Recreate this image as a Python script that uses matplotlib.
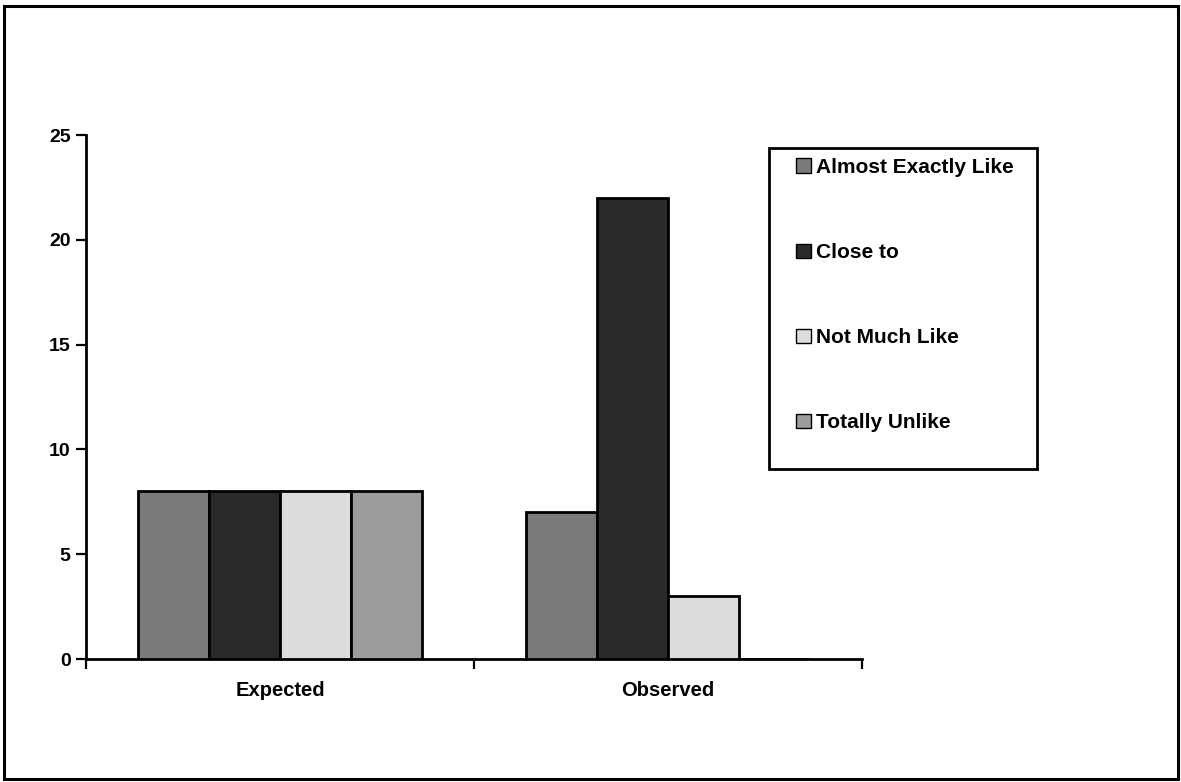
import matplotlib
matplotlib.use("Agg")
import matplotlib.pyplot as plt
from matplotlib.patches import Rectangle
import numpy as np

plt.rcParams['font.family'] = ['Liberation Sans', 'DejaVu Sans']
plt.rcParams['font.weight'] = 'bold'

groups = ["Expected", "Observed"]
series = ["Almost Exactly Like", "Close to", "Not Much Like", "Totally Unlike"]
values = {
    "Almost Exactly Like": [8, 7],
    "Close to": [8, 22],
    "Not Much Like": [8, 3],
    "Totally Unlike": [8, 0],
}
fills = ["#7a7a7a", "#2a2a2a", "#dcdcdc", "#9c9c9c"]
y_ticks = [0, 5, 10, 15, 20, 25]

fig = plt.figure(figsize=(11.81, 7.82), dpi=100)
fig.patch.set_facecolor("white")

# outer frame around the whole chart
fig.patches.append(Rectangle((4 / 1181, 3 / 782), 1174 / 1181, 773 / 782,
                             transform=fig.transFigure, fill=False,
                             edgecolor="black", linewidth=2.2))

ax = fig.add_axes([86 / 1181, 1 - 659 / 782, (862 - 86) / 1181, (659 - 135) / 782])

x = np.arange(len(groups))
width = 0.183
handles = []
for i, (name, col) in enumerate(zip(series, fills)):
    vals = values[name]
    offs = (i - 1.5) * width
    h = ax.bar(x + offs, vals, width, color=col, edgecolor="black",
               linewidth=2, label=name, zorder=3)
    handles.append(h)

ax.set_xlim(-0.5, 1.5)
ax.set_ylim(0, 25)
ax.set_yticks(y_ticks)
ax.set_yticklabels([str(t) for t in y_ticks], fontsize=14, fontweight="bold")
ax.set_xticks([-0.5, 0.5, 1.5], minor=False)
ax.set_xticklabels(["", "", ""])
ax.set_xticks(x, minor=True)
ax.set_xticklabels(groups, minor=True, fontsize=14.5, fontweight="bold")
ax.tick_params(axis="x", which="minor", length=0, pad=16)
ax.tick_params(axis="x", which="major", length=7, width=1.6, direction="out")
ax.tick_params(axis="y", length=7, width=1.6, direction="out", pad=4)

for s in ["top", "right"]:
    ax.spines[s].set_visible(False)
for s in ["left", "bottom"]:
    ax.spines[s].set_linewidth(2)

# legend box
fig.patches.append(Rectangle((769 / 1181, 1 - 469 / 782), (1037 - 769) / 1181, (469 - 148) / 782,
                             transform=fig.transFigure, fill=False,
                             edgecolor="black", linewidth=2))
leg = fig.legend(handles=handles, labels=series, loc="upper left",
                 bbox_to_anchor=(792 / 1181, 1 - 154 / 782),
                 frameon=False, prop={"weight": "bold", "size": 15},
                 handlelength=0.72, handleheight=0.72, handletextpad=0.25,
                 labelspacing=3.17, borderpad=0.2, borderaxespad=0)
for p in leg.get_patches():
    p.set_linewidth(1)

fig.savefig("out.png", dpi=100, facecolor="white")
